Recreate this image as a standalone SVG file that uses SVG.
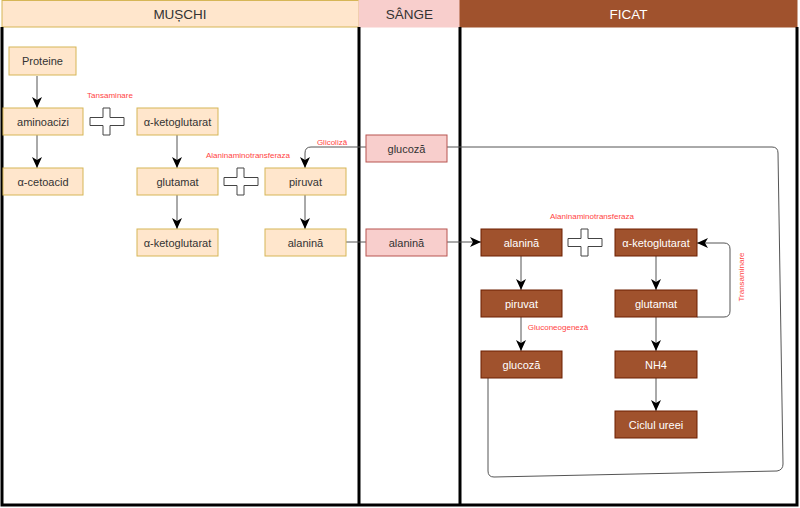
<svg xmlns="http://www.w3.org/2000/svg" width="800" height="508" viewBox="0 0 800 508">
<style>
text{font-family:"Liberation Sans",Arial,sans-serif;text-anchor:middle;dominant-baseline:central}
.m rect{fill:#ffe6cc;stroke:#d6b656;stroke-width:1}
.m text,.s text{font-size:11px;fill:#333}
.s rect{fill:#f8cecc;stroke:#b85450;stroke-width:1}
.f rect{fill:#a0522d;stroke:#6d1f00;stroke-width:1}
.f text{font-size:11px;fill:#fff}
.hd{font-size:13.5px}
.lane{fill:none;stroke:#000;stroke-width:3}
.c{fill:none;stroke:#555;stroke-width:1}
.lbl{font-size:8px;fill:#ff4444}
.plus{fill:#fff;stroke:#444;stroke-width:1}
</style>
<defs>
<marker id="arr" viewBox="0 0 11 10" refX="11" refY="5" markerWidth="11" markerHeight="10" markerUnits="userSpaceOnUse" orient="auto">
<path d="M0,0 L11,5 L0,10 L3,5 Z" fill="#000"/>
</marker>
<path id="plusShape" d="M13,0 H20 V9.5 H34 V17.5 H20 V27 H13 V17.5 H0 V9.5 H13 Z"/>
</defs>
<rect width="800" height="508" fill="#fff"/>
<g id="lanes">
<rect x="2" y="0.5" width="357" height="26.5" fill="#ffe6cc" stroke="#d6b656"/>
<text class="hd" x="180" y="14" fill="#333">MUȘCHI</text>
<rect x="359" y="0.5" width="101" height="26.5" fill="#f8cecc" stroke="#f8cecc"/>
<text class="hd" x="409.5" y="14" fill="#333">SÂNGE</text>
<rect x="460" y="0.5" width="337" height="26.5" fill="#a0522d" stroke="#a0522d"/>
<text class="hd" x="628.5" y="14" fill="#fff">FICAT</text>
<path class="lane" d="M2,27 V505 H797 V27 M359,27 V505 M460,27 V505"/>
</g>
<g id="connectors">
<path class="c" d="M37,76 V108" marker-end="url(#arr)"/>
<path class="c" d="M37,135 V168" marker-end="url(#arr)"/>
<path class="c" d="M177,135 V168" marker-end="url(#arr)"/>
<path class="c" d="M177,195 V229" marker-end="url(#arr)"/>
<path class="c" d="M305,195 V229" marker-end="url(#arr)"/>
<path class="c" d="M346,242 H481" marker-end="url(#arr)"/>
<path class="c" d="M488,377 V471 Q488,477 494,477 L777,471 Q783,470 783,464 L778,153 Q778,147 772,147 L311,147 Q305,147 305,153 V168" marker-end="url(#arr)"/>
<path class="c" d="M521,256 V290" marker-end="url(#arr)"/>
<path class="c" d="M521,317 V351" marker-end="url(#arr)"/>
<path class="c" d="M656,256 V290" marker-end="url(#arr)"/>
<path class="c" d="M656,317 V351" marker-end="url(#arr)"/>
<path class="c" d="M656,377 V411" marker-end="url(#arr)"/>
<path class="c" d="M697,317 H724 Q730,317 730,311 V249 Q730,243 724,243 H697" marker-end="url(#arr)"/>
</g>
<g id="labels">
<text class="lbl" x="110" y="95">Tansaminare</text>
<text class="lbl" x="248" y="155.5">Alaninaminotransferaza</text>
<text class="lbl" x="332" y="142">Glicoliză</text>
<text class="lbl" x="592" y="216">Alaninaminotransferaza</text>
<text class="lbl" x="558" y="327">Gluconeogeneză</text>
<text class="lbl" x="741" y="277" transform="rotate(-90 741 277)">Transaminare</text>
</g>
<g id="n-proteine" class="m"><rect x="9" y="47" width="67" height="28"/><text x="42.5" y="61">Proteine</text></g>
<g id="n-aminoacizi" class="m"><rect x="3" y="108" width="80" height="27"/><text x="43" y="121.5">aminoacizi</text></g>
<g id="n-cetoacid" class="m"><rect x="3" y="168" width="80" height="27"/><text x="43" y="181.5">α-cetoacid</text></g>
<g id="plus1"><use href="#plusShape" class="plus" x="90" y="108"/></g>
<g id="n-aketo1" class="m"><rect x="137" y="108" width="81" height="27"/><text x="177.5" y="121.5">α-ketoglutarat</text></g>
<g id="n-glutamat1" class="m"><rect x="137" y="168" width="81" height="27"/><text x="177.5" y="181.5">glutamat</text></g>
<g id="n-aketo2" class="m"><rect x="137" y="229" width="81" height="27"/><text x="177.5" y="242.5">α-ketoglutarat</text></g>
<g id="plus2"><use href="#plusShape" class="plus" x="224" y="168"/></g>
<g id="n-piruvat1" class="m"><rect x="265" y="168" width="81" height="27"/><text x="305.5" y="181.5">piruvat</text></g>
<g id="n-alanina1" class="m"><rect x="265" y="229" width="81" height="27"/><text x="305.5" y="242.5">alanină</text></g>
<g id="n-glucoza-s" class="s"><rect x="366" y="135" width="81" height="27"/><text x="406.5" y="148.5">glucoză</text></g>
<g id="n-alanina-s" class="s"><rect x="366" y="229" width="81" height="27"/><text x="406.5" y="242.5">alanină</text></g>
<g id="n-alanina-f" class="f"><rect x="481" y="229" width="81" height="27"/><text x="521.5" y="242.5">alanină</text></g>
<g id="plus3"><use href="#plusShape" class="plus" x="568" y="229"/></g>
<g id="n-aketo-f" class="f"><rect x="615" y="229" width="82" height="27"/><text x="656" y="242.5">α-ketoglutarat</text></g>
<g id="n-piruvat-f" class="f"><rect x="481" y="290" width="81" height="27"/><text x="521.5" y="303.5">piruvat</text></g>
<g id="n-glutamat-f" class="f"><rect x="615" y="290" width="82" height="27"/><text x="656" y="303.5">glutamat</text></g>
<g id="n-glucoza-f" class="f"><rect x="481" y="351" width="81" height="27"/><text x="521.5" y="364.5">glucoză</text></g>
<g id="n-nh4" class="f"><rect x="615" y="351" width="82" height="27"/><text x="656" y="364.5">NH4</text></g>
<g id="n-ciclul" class="f"><rect x="615" y="411" width="82" height="27"/><text x="656" y="424.5">Ciclul ureei</text></g>
</svg>
